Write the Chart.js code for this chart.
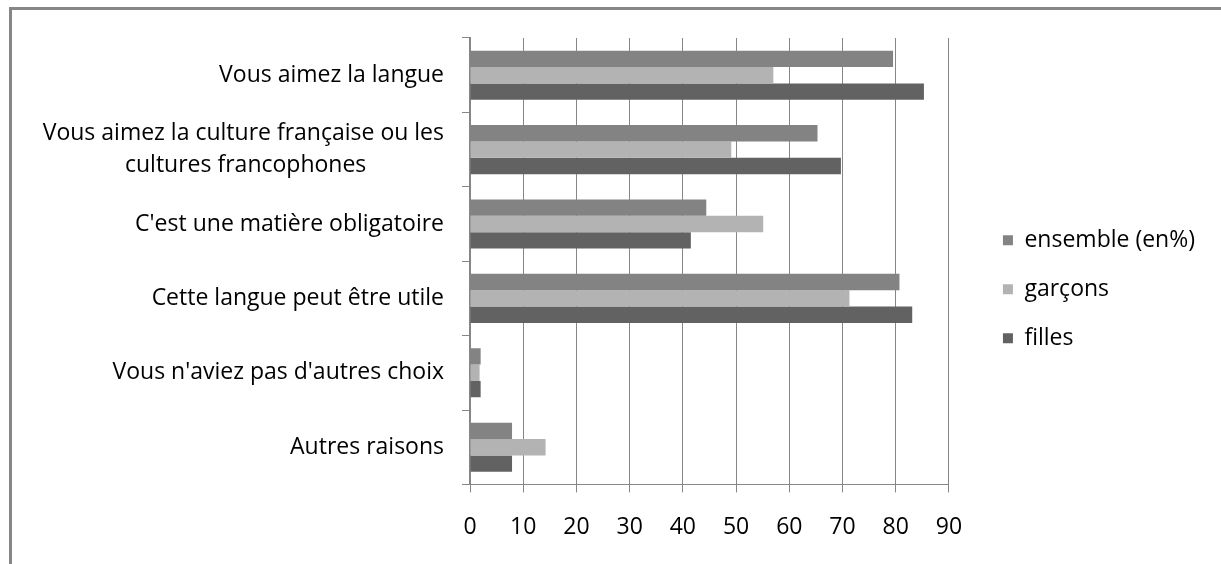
<!DOCTYPE html>
<html>
<head>
<meta charset="utf-8">
<script src="https://cdn.jsdelivr.net/npm/chart.js@4/dist/chart.umd.min.js"></script>
<style>
  html, body { margin: 0; padding: 0; background: #fff; }
  #wrap { position: relative; width: 1221px; height: 564px; }
  #frame { position: absolute; left: 9px; top: 7px; right: -10px; bottom: -10px;
           border-top: 3px solid #868686; border-left: 3px solid #868686; pointer-events: none; }
</style>
</head>
<body>
<div id="wrap">
  <canvas id="barChart" width="1221" height="564"></canvas>
  <div id="frame"></div>
</div>
<script>
// Data
const categories = [
    'Vous aimez la langue',
    ['Vous aimez la culture française ou les', 'cultures francophones'],
    "C'est une matière obligatoire",
    'Cette langue peut être utile',
    "Vous n'aviez pas d'autres choix",
    'Autres raisons'
];
const ensemble = [79.5, 65.3, 44.4, 80.7, 2.0, 7.9];
const garcons = [57.0, 49.1, 55.1, 71.3, 1.8, 14.2];
const filles = [85.3, 69.7, 41.5, 83.1, 2.0, 7.9];
const xTicks = [0, 10, 20, 30, 40, 50, 60, 70, 80, 90];

const fontFamily = '"Open Sans", Lato, sans-serif';
const fontSize = 23;
const gridColor = '#868686';

// centre the second line of a two-line label under the first one
const measure = document.createElement('canvas').getContext('2d');
measure.font = fontSize + 'px ' + fontFamily;
function centreLines(label) {
    if (!Array.isArray(label)) return label;
    const w0 = measure.measureText(label[0]).width;
    const sp = measure.measureText(' ').width;
    return label.map(line => {
        const extra = (w0 - measure.measureText(line).width) / 2;
        return line + ' '.repeat(Math.max(0, Math.round(extra / sp)));
    });
}

const ctx = document.getElementById('barChart').getContext('2d');

// put the legend a bit away from the plot, level with the reference
const legendShift = {
    id: 'legendShift',
    afterLayout(chart) {
        const lg = chart.legend;
        const area = chart.chartArea;
        const dx = area.right + 28 - lg.left;
        lg.left += dx;
        lg.right += dx;
        const dy = (area.top + area.bottom) / 2 + 28 - (lg.top + lg.bottom) / 2;
        lg.top += dy;
        lg.bottom += dy;
    }
};

new Chart(ctx, {
    type: 'bar',
    data: {
        labels: categories.map(centreLines),
        datasets: [
            { label: 'ensemble (en%)', data: ensemble, backgroundColor: '#838383' },
            { label: 'garçons', data: garcons, backgroundColor: '#b3b3b3' },
            { label: 'filles', data: filles, backgroundColor: '#626262' }
        ]
    },
    options: {
        indexAxis: 'y',
        responsive: false,
        animation: false,
        categoryPercentage: 0.66,
        barPercentage: 1.0,
        layout: {
            padding: { left: 10, top: 38, right: 44, bottom: 2 }
        },
        scales: {
            x: {
                min: 0,
                max: 90,
                afterBuildTicks: (scale) => {
                    scale.ticks = xTicks.map(v => ({ value: v }));
                },
                grid: { color: gridColor, lineWidth: 1, tickLength: 8 },
                border: { color: gridColor, width: 1 },
                ticks: {
                    color: '#000',
                    padding: 21,
                    font: { family: fontFamily, size: fontSize }
                }
            },
            y: {
                afterFit: (scale) => { scale.width = 460; },
                grid: { drawOnChartArea: false, color: gridColor, tickLength: 8, offset: true },
                border: { color: gridColor, width: 2 },
                ticks: {
                    color: '#000',
                    padding: 18,
                    autoSkip: false,
                    font: { family: fontFamily, size: fontSize, lineHeight: 1.4 }
                }
            }
        },
        plugins: {
            tooltip: { enabled: false },
            legend: {
                position: 'right',
                align: 'center',
                labels: {
                    color: '#000',
                    boxWidth: 10,
                    boxHeight: 10,
                    padding: 26,
                    font: { family: fontFamily, size: fontSize }
                }
            }
        }
    },
    plugins: [legendShift]
});
</script>
</body>
</html>
